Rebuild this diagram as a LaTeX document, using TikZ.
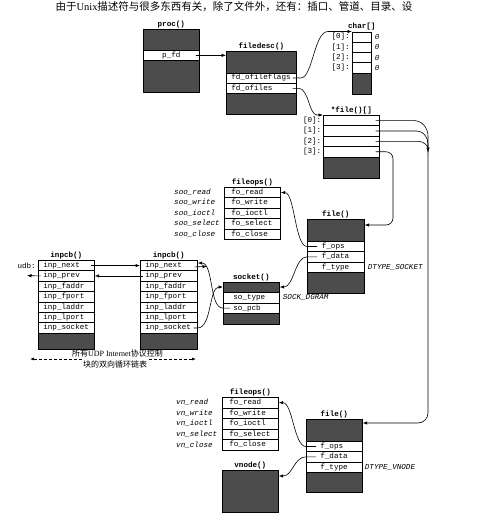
\documentclass[tikz,border=0pt]{standalone}
\usepackage{fontspec}
\setmainfont{Liberation Serif}
\newfontfamily\monof{Liberation Mono}
\newfontfamily\cjkf{Noto Sans CJK SC}
\usetikzlibrary{arrows.meta}
\newcommand\rowfnt{\monof\fontsize{7.6}{9}\selectfont}
\newcommand\ttlfnt{\monof\bfseries\fontsize{7.6}{9}\selectfont}
\newcommand\itfnt{\monof\itshape\fontsize{7.6}{9}\selectfont}
\definecolor{shade}{gray}{0.3}
\tikzset{
  box/.style={draw, fill=shade, anchor=north west, inner sep=0pt, line width=0.7pt},
  cell/.style={draw, fill=white, anchor=north west, inner ysep=0pt, align=left,
    font=\rowfnt, text height=5.3pt, text depth=1.5pt, line width=0.7pt, minimum height=10.4pt},
  ttl/.style={font=\ttlfnt, inner sep=0pt, anchor=base},
  lab/.style={font=\itfnt, inner sep=0pt, anchor=west},
  idx/.style={font=\rowfnt, inner sep=0pt, anchor=east},
  ptr/.style={-{Latex[length=4.5pt,width=3.4pt]}, line width=0.6pt},
  wire/.style={line width=0.6pt},
}
\begin{document}
\begin{tikzpicture}[x=1pt,y=-1pt]
\path[use as bounding box, fill=white] (0,0) rectangle (488,520);

% header text
\node[anchor=base, inner sep=0pt, font=\fontsize{10.5}{12}\selectfont] (hdr) at (234,10)
  {{\cjkf 由于}Unix{\cjkf 描述符与很多东西有关，除了文件外，还有：插口、管道、目录、设}};

% proc()
\node[box, minimum width=56pt, minimum height=63pt] (proc) at (143,29) {};
\node[cell, inner xsep=0pt, text width=56pt, align=center, minimum height=10pt] (pfd) at (143,50) {p\_fd};
\node[ttl] (tproc) at ([yshift=3pt]proc.north) {proc()};

% filedesc()
\node[box, minimum width=70pt, minimum height=63pt] (fdesc) at (226,51) {};
\node[cell, inner xsep=5pt, text width=60pt, minimum height=10.3pt] (fflags) at (226,72.5) {fd\_ofileflags};
\node[cell, inner xsep=5pt, text width=60pt, minimum height=10.3pt] (fofiles) at (226,82.8) {fd\_ofiles};
\node[ttl] (tfdesc) at ([yshift=3pt]fdesc.north) {filedesc()};

% char[]
\node[box, minimum width=19pt, minimum height=62.5pt] (chr) at (352,31.5) {};
\foreach \i/\y in {0/31.5,1/41.8,2/52.1,3/62.4}{
  \node[cell, inner xsep=0pt, text width=19pt, minimum height=10.3pt] (chr\i) at (352,\y) {};
  \node[idx] (chrl\i) at ([xshift=-2pt]chr\i.west) {[\i]:};
  \node[lab] (chrv\i) at ([xshift=3pt]chr\i.east) {0};
}
\node[ttl] (tchr) at ([yshift=3pt]chr.north) {char[]};

% *file()[]
\node[box, minimum width=56pt, minimum height=63pt] (farr) at (323,115) {};
\foreach \i/\y in {0/115,1/125.4,2/135.8,3/146.2}{
  \node[cell, inner xsep=0pt, text width=56pt] (farr\i) at (323,\y) {};
  \node[idx] (farrl\i) at ([xshift=-1.5pt]farr\i.west) {[\i]:};
}
\node[ttl] (tfarr) at ([yshift=3pt]farr.north) {*file()[]};

% fileops() for sockets
\foreach \i/\a in {0/read,1/write,2/ioctl,3/select,4/close}{
  \node[cell, inner xsep=7pt, text width=42pt] (fo1\a) at (224,{187+10.4*\i}) {fo\_\a};
  \node[lab] (soo\a) at (174,{192.2+10.4*\i}) {soo\_\a};
}
\node[ttl] (tfo1) at ([yshift=3pt]fo1read.north) {fileops()};

% file() socket
\node[box, minimum width=57pt, minimum height=74.3pt] (file1) at (307,219) {};
\node[cell, inner xsep=14.5pt, text width=28pt, minimum height=10.3pt] (fops1) at (307,241) {f\_ops};
\node[cell, inner xsep=14.5pt, text width=28pt, minimum height=10.3pt] (fdata1) at (307,251.3) {f\_data};
\node[cell, inner xsep=14.5pt, text width=28pt, minimum height=10.3pt] (ftype1) at (307,261.6) {f\_type};
\node[ttl] (tfile1) at ([yshift=3pt]file1.north) {file()};
\node[lab] (dsock) at ([xshift=3pt]ftype1.east) {DTYPE\_SOCKET};

% socket()
\node[box, minimum width=56pt, minimum height=42pt] (sock) at (223,282) {};
\node[cell, inner xsep=10pt, text width=36pt, minimum height=10.5pt] (sotype) at (223,292) {so\_type};
\node[cell, inner xsep=10pt, text width=36pt, minimum height=10.5pt] (sopcb) at (223,302.5) {so\_pcb};
\node[ttl] (tsock) at ([yshift=3pt]sock.north) {socket()};
\node[lab] (sdgram) at ([xshift=3pt]sotype.east) {SOCK\_DGRAM};

% inpcb() head
\node[box, minimum width=56pt, minimum height=89pt] (pcbA) at (38,260) {};
\foreach \i/\a in {0/next,1/prev,2/faddr,3/fport,4/laddr,5/lport,6/socket}{
  \node[cell, inner xsep=5pt, text width=46pt] (A\a) at (38,{260+10.4*\i}) {inp\_\a};
}
\node[ttl] (tpcbA) at ([yshift=3pt]pcbA.north) {inpcb()};
\node[idx] (udb) at ([xshift=-2pt]Anext.west) {udb:};

% inpcb() second
\node[box, minimum width=57pt, minimum height=89pt] (pcbB) at (140,260) {};
\foreach \i/\a in {0/next,1/prev,2/faddr,3/fport,4/laddr,5/lport,6/socket}{
  \node[cell, inner xsep=5pt, text width=47pt] (B\a) at (140,{260+10.4*\i}) {inp\_\a};
}
\node[ttl] (tpcbB) at ([yshift=3pt]pcbB.north) {inpcb()};

% fileops() for vnodes
\foreach \i/\a in {0/read,1/write,2/ioctl,3/select,4/close}{
  \node[cell, inner xsep=7pt, text width=42pt, minimum height=10.6pt] (fo2\a) at (222,{397+10.6*\i}) {fo\_\a};
  \node[lab] (vn\a) at (176,{402.3+10.6*\i}) {vn\_\a};
}
\node[ttl] (tfo2) at ([yshift=3pt]fo2read.north) {fileops()};

% file() vnode
\node[box, minimum width=56pt, minimum height=73pt] (file2) at (306,419) {};
\node[cell, inner xsep=14pt, text width=28pt, minimum height=10.3pt] (fops2) at (306,441) {f\_ops};
\node[cell, inner xsep=14pt, text width=28pt, minimum height=10.3pt] (fdata2) at (306,451.3) {f\_data};
\node[cell, inner xsep=14pt, text width=28pt, minimum height=10.3pt] (ftype2) at (306,461.6) {f\_type};
\node[ttl] (tfile2) at ([yshift=3pt]file2.north) {file()};
\node[lab] (dvnode) at ([xshift=2pt]ftype2.east) {DTYPE\_VNODE};

% vnode()
\node[box, minimum width=56pt, minimum height=42pt] (vnode) at (222,470) {};
\node[ttl] (tvnode) at ([yshift=3pt]vnode.north) {vnode()};

% ---------- connectors ----------
\draw[ptr] ([xshift=-4pt]pfd.east) -- (pfd.east -| fdesc.west);
\draw[ptr] ([xshift=-4pt]fflags.east) -- ++(8,0) .. controls +(12,0) and +(-14,0) .. ([xshift=-24pt]chr0.north west) -- (chr0.north west);
\draw[ptr] ([xshift=-4pt]fofiles.east) -- ++(6,0) .. controls +(10,0) and +(-8,0) .. ([xshift=-6pt]farr0.north west) -- (farr0.north west);

\coordinate (merge) at (428,152);
\coordinate (rail) at (393,152);
\draw[wire] ([xshift=-4pt]farr0.east) -- ++(38,0) to[out=0,in=90] (428,136) -- (merge);
\draw[wire] ([xshift=-4pt]farr1.east) -- ++(41,0) to[out=0,in=90] (428,144) -- (merge);
\draw[ptr] ([xshift=-4pt]farr2.east) -- ++(43,0) to[out=0,in=90] (merge);
\draw[ptr, rounded corners=10pt] (merge) |- ([yshift=-4pt]file2.north east);
\draw[ptr, rounded corners=7pt] ([xshift=-4pt]farr3.east) -- (farr3.east -| rail) |- ([yshift=-6pt]file1.north east);

\draw[ptr] ([xshift=10pt]fops1.west) -- (fops1.west) .. controls +(-12,0) and +(14,0) .. (fo1read.east);
\draw[ptr] ([xshift=10pt]fdata1.west) -- (fdata1.west) .. controls +(-12,0) and +(14,0) .. ([yshift=-5pt]sock.north east);

\draw[ptr] ([xshift=7pt]sopcb.west) -- (sopcb.west) .. controls +(-14,0) and +(16,0) .. ([yshift=2.5pt]Bnext.east);
\draw[ptr] ([xshift=-4pt]Bsocket.east) -- (Bsocket.east) .. controls +(14,0) and +(-14,0) .. ([yshift=-5pt]sock.north west);

\draw[ptr] ([xshift=-4pt]Anext.east) -- (Bnext.west);
\draw[ptr] ([xshift=2.5pt]Bprev.west) -- (Aprev.east);
\coordinate (prevout) at (27,275.6);
\draw[ptr] ([xshift=2.5pt]Aprev.west) -- (prevout);
\coordinate (nextout) at (207,266.5);
\draw[ptr] ([xshift=-3pt,yshift=-1.3pt]Bnext.east) -- (nextout);

\draw[ptr] ([xshift=10pt]fops2.west) -- (fops2.west) .. controls +(-12,0) and +(14,0) .. (fo2read.east);
\draw[ptr] ([xshift=10pt]fdata2.west) -- (fdata2.west) .. controls +(-12,0) and +(14,0) .. ([yshift=-6pt]vnode.north east);

% dashed list arrow and caption
\coordinate (dl) at (30,359);
\coordinate (dr) at (196,359);
\draw[{Latex[length=4pt,width=3pt]}-{Latex[length=4pt,width=3pt]}, line width=0.6pt, dash pattern=on 3pt off 2pt] (dl) -- (dr);
\node[fill=white, inner sep=1.5pt, font=\fontsize{8}{9}\selectfont] (cap2) at (115,364) {\cjkf 块的双向循环链表};
\node[inner sep=0pt, font=\fontsize{8}{9}\selectfont] (cap1) at (117.5,353.5) {{\cjkf 所有}UDP Internet{\cjkf 协议控制}};
\end{tikzpicture}
\end{document}
